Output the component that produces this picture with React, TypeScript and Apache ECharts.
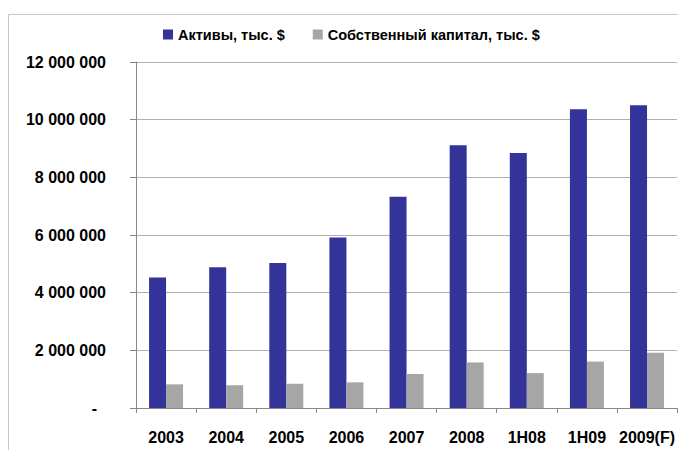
import React, { useEffect, useRef } from "react";
import * as echarts from "echarts";

const categories = ["2003", "2004", "2005", "2006", "2007", "2008", "1H08", "1H09", "2009(F)"];
const assets = [4530000, 4880000, 5030000, 5910000, 7330000, 9110000, 8840000, 10360000, 10500000];
const equity = [820000, 790000, 840000, 890000, 1180000, 1580000, 1210000, 1610000, 1920000];
const seriesNames = ["Активы, тыс. $", "Собственный капитал, тыс. $"];

const FONT = "'Liberation Sans', Arial, sans-serif";

function fmt(v: number): string {
  if (v === 0) return "{d|-}";
  return String(v).replace(/\B(?=(\d{3})+(?!\d))/g, " ");
}

export default function App() {
  const ref = useRef<HTMLDivElement>(null);
  useEffect(() => {
    if (!ref.current) return;
    const chart = echarts.init(ref.current, undefined, { renderer: "svg" });
    chart.setOption({
      animation: false,
      backgroundColor: "#ffffff",
      textStyle: { fontFamily: FONT },
      graphic: [
        {
          type: "rect",
          shape: { x: 8.5, y: 14.5, width: 700, height: 500 },
          style: { fill: "none", stroke: "#c8c8c8", lineWidth: 1 },
          silent: true,
          z: -1,
        },
      ],
      legend: {
        left: 163,
        top: 27,
        padding: 0,
        itemWidth: 10,
        itemHeight: 10,
        itemGap: 28,
        icon: "rect",
        textStyle: { fontFamily: FONT, fontWeight: "bold", fontSize: 14.5, color: "#000" },
        data: seriesNames,
      },
      grid: { left: 136, right: 0, top: 62, bottom: 42, containLabel: false },
      xAxis: {
        type: "category",
        data: categories,
        axisLine: { lineStyle: { color: "#888888" } },
        axisTick: { show: true, length: 5, interval: 0, lineStyle: { color: "#888888" } },
        splitLine: { show: false },
        axisLabel: { interval: 0, fontFamily: FONT, fontWeight: "bold", fontSize: 16, color: "#000", margin: 21 },
      },
      yAxis: {
        type: "value",
        min: 0,
        max: 12000000,
        interval: 2000000,
        axisLine: { show: true, lineStyle: { color: "#888888" } },
        axisTick: { show: true, length: 6, lineStyle: { color: "#888888" } },
        splitLine: { lineStyle: { color: "#b0b0b0" } },
        axisLabel: {
          fontFamily: FONT,
          fontWeight: "bold",
          fontSize: 16,
          color: "#000",
          margin: 30,
          formatter: fmt,
          rich: { d: { fontFamily: FONT, fontWeight: "bold", fontSize: 16, color: "#000", padding: [0, 9, 0, 0] } },
        },
      },
      series: [
        {
          name: seriesNames[0],
          type: "bar",
          data: assets,
          barWidth: 17,
          barGap: "0%",
          itemStyle: { color: "#333399" },
        },
        {
          name: seriesNames[1],
          type: "bar",
          data: equity,
          barWidth: 17,
          barGap: "0%",
          itemStyle: { color: "#a6a6a6" },
        },
      ],
    });
    return () => chart.dispose();
  }, []);
  return <div ref={ref} style={{ width: 678, height: 450, position: "absolute", left: 0, top: 0 }} />;
}
